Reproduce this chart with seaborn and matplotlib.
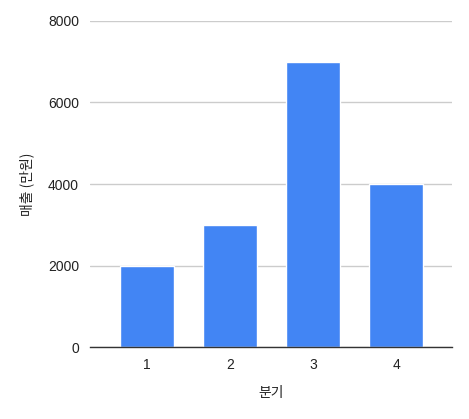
import matplotlib
matplotlib.use("Agg")
import matplotlib.pyplot as plt
import seaborn as sns
import pandas as pd

quarters = ["1", "2", "3", "4"]
sales = [2000, 3000, 7000, 4000]
yticks = [0, 2000, 4000, 6000, 8000]

sns.set_theme(style="white")
plt.rcParams['font.family'] = ['Liberation Sans', 'Noto Sans CJK KR', 'DejaVu Sans']

df = pd.DataFrame({"분기": quarters, "매출": sales})

fig = plt.figure(figsize=(4.69, 4.19), dpi=100)
ax = fig.add_axes([90/469, 1-347/419, (452-90)/469, (347-21)/419])
sns.barplot(data=df, x="분기", y="매출", color="#4285F4", saturation=1, width=0.65, ax=ax)

ax.set_ylim(0, 8000)
ax.set_xlim(-0.69, 3.67)
ax.set_yticks(yticks)
ax.set_yticklabels([str(t) for t in yticks])
ax.yaxis.grid(True, color="#cccccc", linewidth=1)
ax.set_axisbelow(True)
for s in ["top", "right", "left"]:
    ax.spines[s].set_visible(False)
ax.spines["bottom"].set_color("#333333")
ax.spines["bottom"].set_linewidth(1)
ax.tick_params(axis="both", length=0, labelsize=10, colors="#222222", pad=8)
ax.tick_params(axis="y", pad=8)
ax.set_xlabel("분기", fontsize=10, color="#222222", family=['Noto Sans CJK KR'])
ax.set_ylabel("매출 (만원)", fontsize=10, color="#222222", family=['Noto Sans CJK KR'])
ax.xaxis.set_label_coords(0.5, (347-393)/326)
ax.yaxis.set_label_coords((27-90)/362, 0.5)
ax.xaxis.label.set_va("center")
ax.yaxis.label.set_va("center")

fig.savefig("out.png", dpi=100)
